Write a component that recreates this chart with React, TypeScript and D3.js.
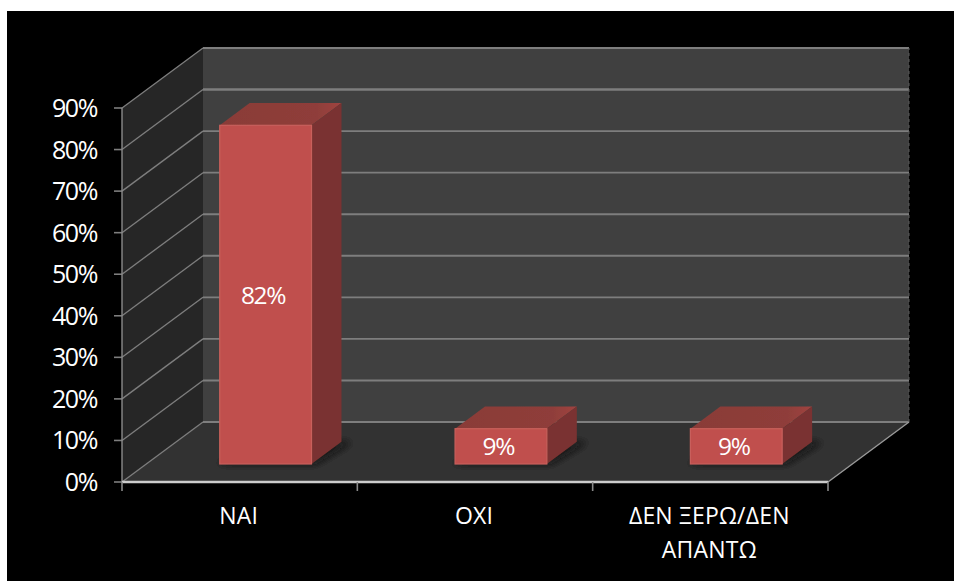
import React from "react";
import * as d3 from "d3";

const categories = [["ΝΑΙ"], ["ΟΧΙ"], ["ΔΕΝ ΞΕΡΩ/ΔΕΝ", "ΑΠΑΝΤΩ"]];
const values = [82, 9, 9];
const yTicks = [0, 10, 20, 30, 40, 50, 60, 70, 80, 90];

const W = 954, H = 581;
const x = d3.scaleLinear().domain([0, 3]).range([122, 828]);
const y = d3.scaleLinear().domain([0, 90]).range([482, 108]);
const dx = d3.scaleLinear().domain([0, 1]).range([0, 81]);
const dy = d3.scaleLinear().domain([0, 1]).range([0, -60]);
// project (category position, value, depth) to the screen
const P = (c: number, v: number, z: number): [number, number] => [x(c) + dx(z), y(v) + dy(z)];
const poly = (pts: [number, number][]) => d3.line()(pts)! + "Z";

const font = "'Open Sans', 'Noto Sans', sans-serif";
const barW = 0.39, z0 = 0.3, z1 = 0.67;
const barOffset = 0.007; // bars sit a little right of band centre
const bevel = 0.5; // value units the bevelled top loses

export default function App() {
  return (
    <svg width={W} height={H} style={{ position: "absolute", left: 0, top: 0, background: "#fff" }} fontFamily={font}>
      <defs>
        <filter id="soft" x="-5%" y="-5%" width="110%" height="110%"><feGaussianBlur stdDeviation="0.6" /></filter>
        <filter id="shadow" x="-30%" y="-30%" width="160%" height="160%"><feGaussianBlur stdDeviation="4" /></filter>
        <linearGradient id="topG" x1="0" y1="0" x2="1" y2="0">
          <stop offset="0" stopColor="#8a3b37" />
          <stop offset="0.8" stopColor="#8f3e3a" />
          <stop offset="1" stopColor="#a04440" />
        </linearGradient>
      </defs>
      <rect x={7} y={11} width={W - 7} height={H - 11} fill="#000" />
      <g filter="url(#soft)">
        <path d={poly([P(0, 0, 0), P(0, 90, 0), P(0, 90, 1), P(0, 0, 1)])} fill="#282828" />
        <path d={poly([P(0, 0, 1), P(0, 90, 1), P(3, 90, 1), P(3, 0, 1)])} fill="#404040" />
        <path d={poly([P(0, 0, 0), P(0, 0, 1), P(3, 0, 1), P(3, 0, 0)])} fill="#333333" />
        {yTicks.map(t => (
          <g key={t} stroke="#7e7e7e">
            <path d={d3.line()([P(0, t, 0), P(0, t, 1)])!} fill="none" strokeWidth={1.3} />
            <path d={d3.line()([P(0, t, 1), P(3, t, 1)])!} fill="none" strokeWidth={t === 80 ? 2.4 : 1.9} />
            <path d={d3.line()([[x(0) - 8, y(t)], [x(0), y(t)]])!} fill="none" strokeWidth={1.6} />
          </g>
        ))}
        <path d={d3.line()([P(3, 0, 0), P(3, 0, 1)])!} stroke="#9a9a9a" strokeWidth={1.4} fill="none" />
        <path d={d3.line()([P(3, 0, 1), P(3, 90, 1)])!} stroke="#5a5a5a" strokeWidth={1} fill="none" strokeDasharray="3 3" />
        <path d={d3.line()([P(0, 0, 0), P(0, 90, 0)])!} stroke="#8a8a8a" strokeWidth={1.4} fill="none" />
        <path d={d3.line()([P(0, 0, 0), P(3, 0, 0)])!} stroke="#cccccc" strokeWidth={2.4} fill="none" />
        {[0, 1, 2, 3].map(c => (
          <path key={c} d={d3.line()([[x(c), y(0)], [x(c), y(0) + 9]])!} stroke="#8a8a8a" strokeWidth={1.6} fill="none" />
        ))}
        {values.map((v, i) => {
          const a = i + (1 - barW) / 2 + barOffset, b = a + barW;
          const vt = v - bevel;
          return (
            <g key={i}>
              <path filter="url(#shadow)" fill="#0a0a0a" opacity={0.75}
                d={poly([P(a - 0.02, 0, z0), P(b + 0.02, 0, z0), P(b + 0.05, 0, z1), P(a + 0.1, 0, z1)])} />
              <path d={poly([P(a, vt, z0), P(b, vt, z0), P(b, vt, z1), P(a, vt, z1)])} fill="url(#topG)" />
              <path d={poly([P(b, 0, z0), P(b, vt, z0), P(b, vt, z1), P(b, 0, z1)])} fill="#7a3330" />
              <rect x={P(a, 0, z0)[0]} y={P(a, vt, z0)[1]} width={x(b) - x(a)} height={P(a, 0, z0)[1] - P(a, vt, z0)[1]}
                fill="#c0504d" stroke="#c9605c" strokeWidth={1.2} />
            </g>
          );
        })}
      </g>
      <g fill="#fff">
        {yTicks.map(t => (
          <text key={t} x={97} y={y(t) + 9} textAnchor="end" fontSize={25} letterSpacing={-1.4}>{t}%</text>
        ))}
        {values.map((v, i) => {
          const a = i + (1 - barW) / 2 + barOffset;
          const top = P(a, v, z0)[1], bot = P(a, 0, z0)[1];
          return (
            <text key={i} x={x(a + barW / 2) + dx(z0) - 2.5} y={(top + bot) / 2 + 10} textAnchor="middle" fontSize={24.5} letterSpacing={-1.3}>{v}%</text>
          );
        })}
        {categories.map((lines, i) => lines.map((l, j) => (
          <text key={l} x={x(i + 0.5) - 1} y={524 + j * 33.5} textAnchor="middle" fontSize={23} letterSpacing={0.2}>{l}</text>
        )))}
      </g>
    </svg>
  );
}
